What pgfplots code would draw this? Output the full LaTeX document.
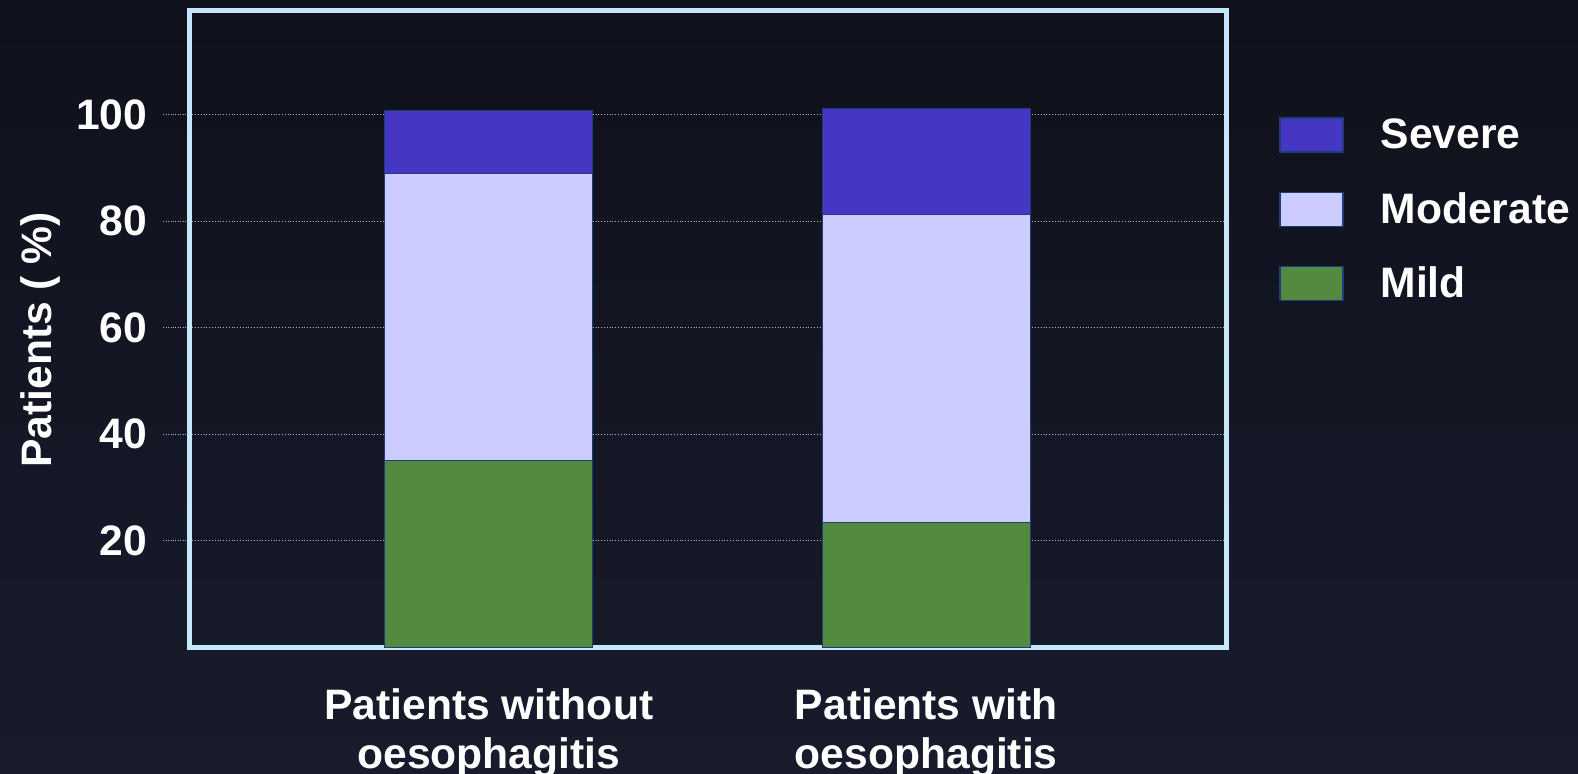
\documentclass[border=0pt]{standalone}
\usepackage{fontspec}
\setmainfont{Liberation Sans}
\usepackage{pgfplots}
\pgfplotsset{compat=1.18}
\definecolor{bgtop}{HTML}{0F111C}
\definecolor{bgbot}{HTML}{181B2B}
\definecolor{frame}{HTML}{C6E6FA}
\definecolor{severe}{HTML}{4636C4}
\definecolor{moderate}{HTML}{CCCCFF}
\definecolor{mild}{HTML}{528A3F}
\definecolor{edge}{HTML}{1F3C78}
\newcommand\lbl{\fontsize{21.3}{24.25}\selectfont\bfseries}
\pgfplotsset{
  mybar/.style={fill=#1, draw=edge, line width=0.5pt,
    legend image code/.code={\draw[fill=#1, draw=edge, line width=0.6pt] (0pt,-8.5pt) rectangle (31.5pt,8.5pt);}},
}
\begin{document}
\begin{tikzpicture}
\shade[top color=bgtop, bottom color=bgbot] (0,0) rectangle (789pt,387pt);
\begin{axis}[
  at={(94.75pt,63.25pt)}, anchor=south west,
  scale only axis, width=518.45pt, height=318.5pt,
  ybar stacked, bar width=0.476,
  xmin=-0.684, xmax=1.686, ymin=0, ymax=119.5,
  xtick={0,1},
  xticklabels={{Patients without\\oesophagitis},{Patients with\\oesophagitis}},
  ytick={20,40,60,80,100},
  ytick pos=left,
  axis line style={draw=frame, line width=2.2pt},
  ymajorgrids,
  grid style={draw=gray!55!white, densely dotted, line width=0.5pt},
  tick align=outside, major tick length=13pt,
  ytick style={draw=gray!55!white, densely dotted, line width=0.5pt},
  xtick style={draw=none},
  tick label style={font=\lbl, text=white},
  /pgf/number format/assume math mode=true,
  yticklabel style={inner sep=0pt, xshift=-8pt},
  xticklabel style={align=center, inner sep=0pt, yshift=-7.5pt},
  ylabel={Patients ( \%)},
  every axis y label/.style={at={(axis description cs:-0.144,0.483)}, rotate=90, anchor=center, font=\lbl, text=white},
  reverse legend, legend cell align=left,
  legend style={at={(axis description cs:1.0507,0.8328)}, anchor=north west,
    draw=none, fill=none, inner sep=0pt, row sep=19.5pt, column sep=18.5pt,
    font=\lbl, text=white, nodes={inner sep=0pt}},
]
\addplot[mybar=mild] coordinates {(0,35) (1,23.4)};
\addplot[mybar=moderate] coordinates {(0,54) (1,57.8)};
\addplot[mybar=severe] coordinates {(0,11.75) (1,20.0)};
\legend{Mild, Moderate, Severe}
\end{axis}
\pgfresetboundingbox
\path (0,0) rectangle (789pt,387pt);
\end{tikzpicture}
\end{document}
